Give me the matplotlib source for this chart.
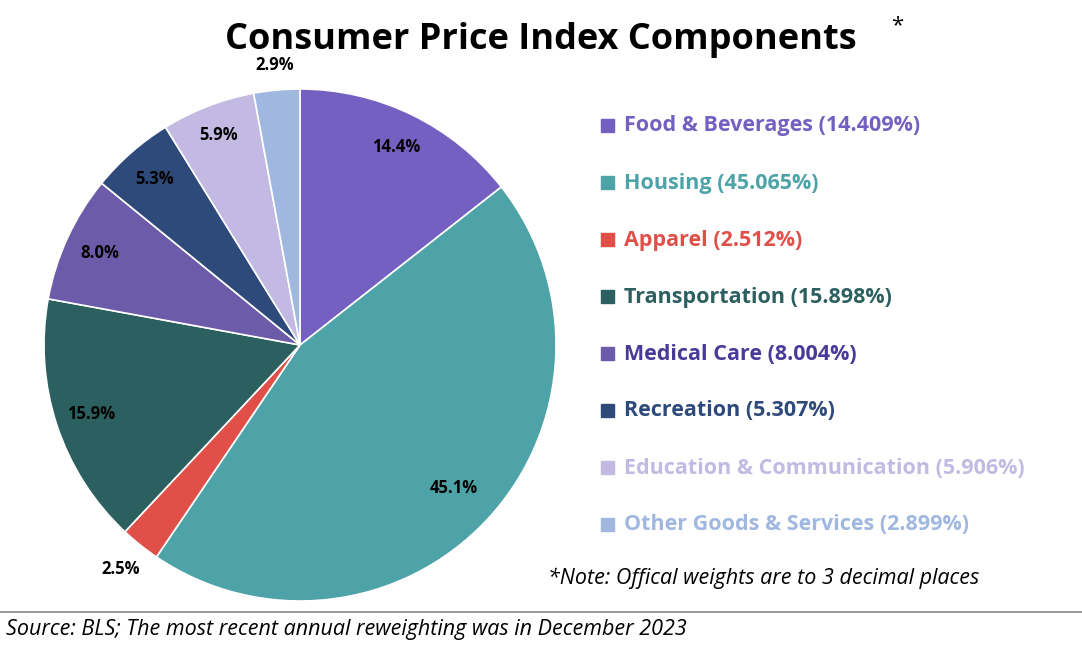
import matplotlib
matplotlib.use("Agg")
import matplotlib.pyplot as plt
import numpy as np

plt.rcParams['font.family'] = ['Open Sans', 'DejaVu Sans']

categories = ["Food & Beverages", "Housing", "Apparel", "Transportation", "Medical Care",
              "Recreation", "Education & Communication", "Other Goods & Services"]
weights = [14.409, 45.065, 2.512, 15.898, 8.004, 5.307, 5.906, 2.899]
colors = ["#7360C0", "#4DA3A8", "#E05048", "#2C5F5F", "#6B5BA8", "#2E4A7A", "#C3BAE3", "#A0B8E0"]
text_colors = ["#7360C0", "#4DA3A8", "#E05048", "#2C5F5F", "#4A3A98", "#2E4A7A", "#C3BAE3", "#A0B8E0"]
label_dist = [0.86, 0.82, 1.12, 0.86, 0.86, 0.86, 0.88, 1.1]

W, H = 1082, 658
fig = plt.figure(figsize=(W/100, H/100), dpi=100)
cx, cy, r = 300, 345, 256
ax = fig.add_axes([(cx-r)/W, (H-cy-r)/H, 2*r/W, 2*r/H])
wedges, _ = ax.pie(weights, colors=colors, startangle=90, counterclock=False, radius=1,
                   wedgeprops=dict(edgecolor='white', linewidth=1.2))
ax.set_xlim(-1, 1); ax.set_ylim(-1, 1); ax.set_aspect('equal')
for w, v, d in zip(wedges, weights, label_dist):
    a = np.deg2rad((w.theta1 + w.theta2) / 2)
    ax.text(d*np.cos(a), d*np.sin(a), f"{v:.1f}%", ha='center', va='center',
            fontsize=12, fontweight='bold', color='black')

fig.text(541/W, 1-40/H, "Consumer Price Index Components", ha='center', va='center',
         fontsize=26, fontweight='bold')
fig.text(891/W, 1-26/H, "*", ha='left', va='center', fontsize=16)

for i, (c, v) in enumerate(zip(categories, weights)):
    y = 1 - (126 + 57*i)/H
    fig.patches.append(plt.Rectangle((601/W, y-6/H), 13/W, 13/H, color=colors[i],
                                     transform=fig.transFigure, figure=fig))
    fig.text(624/W, y, f"{c} ({v:.3f}%)", ha='left', va='center', fontsize=15.5,
             fontweight='bold', color=text_colors[i])

fig.text(548/W, 1-578/H, "*Note: Offical weights are to 3 decimal places", ha='left',
         va='center', fontsize=15.5, style='italic')
fig.add_artist(plt.Line2D([0, 1], [1-612/H]*2, color='#888888', lw=1.2, transform=fig.transFigure))
fig.text(6/W, 1-630/H, "Source: BLS; The most recent annual reweighting was in December 2023",
         ha='left', va='center', fontsize=15.5, style='italic')
fig.savefig("out.png", dpi=100)
